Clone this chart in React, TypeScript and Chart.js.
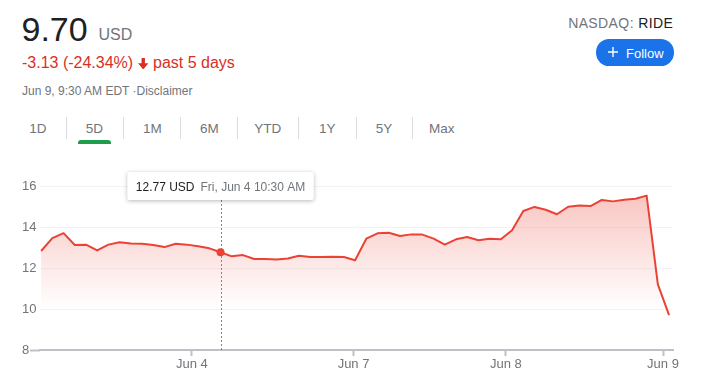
import React, { useEffect, useRef } from "react";
import { Chart, registerables } from "chart.js";

Chart.register(...registerables);

// ---------- data ----------
const PRICES = [
  12.83, 13.46, 13.7, 13.12, 13.14, 12.86, 13.14, 13.26, 13.2, 13.18, 13.12, 13.02, 13.18, 13.14,
  13.06, 12.96, 12.77, 12.57, 12.63, 12.44, 12.44, 12.41, 12.46, 12.6, 12.54, 12.54, 12.55, 12.54,
  12.38, 13.43, 13.69, 13.72, 13.56, 13.64, 13.63, 13.43, 13.14, 13.4, 13.51, 13.35, 13.43, 13.4,
  13.84, 14.78, 14.98, 14.84, 14.62, 14.99, 15.05, 15.02, 15.32, 15.25, 15.33, 15.38, 15.53, 11.2,
  9.7,
];
const X_TICK_VALUES = [13.45, 27.86, 41.45, 55.46];
const X_TICK_LABELS = ["Jun 4", "Jun 7", "Jun 8", "Jun 9"];
const Y_TICKS = [8, 10, 12, 14, 16];
const HOVER_INDEX = 16;
const HOVER_LABEL = "Fri, Jun 4 10:30 AM";
const CURRENCY = "USD";
const PRICE_TEXT = "9.70";
const CHANGE_TEXT = "-3.13 (-24.34%)";
const PERIOD_TEXT = "past 5 days";
const DATE_TEXT = "Jun 9, 9:30 AM EDT ·Disclaimer";
const EXCHANGE = "NASDAQ:";
const TICKER = "RIDE";
const RANGES = ["1D", "5D", "1M", "6M", "YTD", "1Y", "5Y", "Max"];
const SELECTED_RANGE = "5D";

// ---------- styling ----------
const FONT = "'Liberation Sans', Arial, Helvetica, sans-serif";
const RED = "#ea4335";
const GRAY = "#70757a";
const TAB_CENTERS = [38, 94.3, 152.3, 209.3, 267.7, 327.3, 384, 441.7];
const TAB_SEPARATORS = [66.7, 123.7, 180.7, 237.7, 298.3, 356, 412.7];

const hoverPlugin = {
  id: "hoverCard",
  afterDatasetsDraw(chart: any) {
    const { ctx, chartArea, scales } = chart;
    const px = scales.x.getPixelForValue(HOVER_INDEX);
    const v = PRICES[HOVER_INDEX];
    const py = scales.y.getPixelForValue(v);
    const t1 = `${v.toFixed(2)} ${CURRENCY}`;
    ctx.save();
    ctx.font = `12px ${FONT}`;
    const w1 = ctx.measureText(t1).width;
    const w2 = ctx.measureText(HOVER_LABEL).width;
    const gap = 6;
    const padX = 8.5;
    const bw = padX * 2 + w1 + gap + w2;
    const bh = 28;
    const bx = px - bw / 2;
    const by = chartArea.top - 14;
    // dashed guide
    const lx = Math.round(px) + 0.5;
    ctx.strokeStyle = "#80868b";
    ctx.lineWidth = 1;
    ctx.setLineDash([2, 2]);
    ctx.beginPath();
    ctx.moveTo(lx, by + bh);
    ctx.lineTo(lx, chartArea.bottom);
    ctx.stroke();
    ctx.setLineDash([]);
    // dot
    ctx.fillStyle = RED;
    ctx.beginPath();
    ctx.arc(px, py, 4, 0, Math.PI * 2);
    ctx.fill();
    // card
    ctx.shadowColor = "rgba(0,0,0,0.28)";
    ctx.shadowBlur = 4;
    ctx.shadowOffsetY = 1;
    ctx.fillStyle = "#ffffff";
    ctx.beginPath();
    const r = 2;
    ctx.moveTo(bx + r, by);
    ctx.lineTo(bx + bw - r, by);
    ctx.quadraticCurveTo(bx + bw, by, bx + bw, by + r);
    ctx.lineTo(bx + bw, by + bh - r);
    ctx.quadraticCurveTo(bx + bw, by + bh, bx + bw - r, by + bh);
    ctx.lineTo(bx + r, by + bh);
    ctx.quadraticCurveTo(bx, by + bh, bx, by + bh - r);
    ctx.lineTo(bx, by + r);
    ctx.quadraticCurveTo(bx, by, bx + r, by);
    ctx.closePath();
    ctx.fill();
    ctx.shadowColor = "rgba(0,0,0,0)";
    ctx.shadowBlur = 0;
    ctx.shadowOffsetY = 0;
    ctx.textBaseline = "alphabetic";
    ctx.textAlign = "left";
    ctx.fillStyle = "#202124";
    ctx.fillText(t1, bx + padX, by + 19);
    ctx.fillStyle = GRAY;
    ctx.fillText(HOVER_LABEL, bx + padX + w1 + gap, by + 19);
    ctx.restore();
  },
};

function PriceChart() {
  const ref = useRef<HTMLCanvasElement | null>(null);
  useEffect(() => {
    if (!ref.current) return;
    const chart = new Chart(ref.current, {
      type: "line",
      data: {
        datasets: [
          {
            data: PRICES.map((y, i) => ({ x: i, y })),
            borderColor: RED,
            borderWidth: 2,
            pointRadius: 0,
            pointHoverRadius: 0,
            tension: 0,
            borderJoinStyle: "round",
            fill: "start",
            backgroundColor: (c: any) => {
              const ch = c.chart;
              if (!ch.chartArea) return "rgba(234,67,53,0.15)";
              const ys = ch.scales.y;
              const g = ch.ctx.createLinearGradient(0, ys.getPixelForValue(16), 0, ys.getPixelForValue(10));
              g.addColorStop(0, "rgba(234,67,53,0.33)");
              g.addColorStop(1, "rgba(234,67,53,0)");
              return g;
            },
          },
        ],
      },
      options: {
        animation: false,
        responsive: false,
        devicePixelRatio: 1,
        events: [],
        layout: { padding: { left: 22, right: 33, top: 36, bottom: 0 } },
        plugins: { legend: { display: false }, tooltip: { enabled: false } },
        scales: {
          x: {
            type: "linear",
            min: -0.1,
            max: 56.35,
            afterBuildTicks: (s: any) => {
              s.ticks = X_TICK_VALUES.map((value) => ({ value }));
            },
            afterFit: (s: any) => {
              s.height = 40;
            },
            ticks: {
              autoSkip: false,
              maxRotation: 0,
              padding: 1,
              color: GRAY,
              font: { family: FONT, size: 13 },
              callback: (_v: any, i: number) => X_TICK_LABELS[i],
            },
            grid: {
              drawOnChartArea: false,
              drawTicks: true,
              tickLength: 6,
              tickColor: "#bdc1c6",
              tickWidth: 2,
            },
            border: { display: true, color: "#bdc1c6", width: 2 },
          },
          y: {
            min: 8,
            max: 16,
            afterBuildTicks: (s: any) => {
              s.ticks = Y_TICKS.map((value) => ({ value }));
            },
            afterFit: (s: any) => {
              s.width = 18;
            },
            ticks: {
              crossAlign: "far",
              padding: 0,
              color: GRAY,
              font: { family: FONT, size: 13 },
              callback: (v: any) => String(v),
            },
            grid: {
              color: (c: any) => (c.tick && c.tick.value === 8 ? "rgba(0,0,0,0)" : "#f1f3f4"),
              lineWidth: 1,
              tickLength: 10,
              tickColor: (c: any) => (c.tick && c.tick.value === 8 ? "#bdc1c6" : "rgba(0,0,0,0)"),
              tickWidth: 2,
            },
            border: { display: false },
          },
        },
      } as any,
      plugins: [hoverPlugin as any],
    });
    return () => chart.destroy();
  }, []);
  return <canvas ref={ref} width={706} height={240} style={{ position: "absolute", left: 0, top: 150, width: 706, height: 240 }} />;
}

const abs = (left: number, top: number, extra: React.CSSProperties = {}): React.CSSProperties => ({
  position: "absolute",
  left,
  top,
  whiteSpace: "nowrap",
  ...extra,
});

export default function App() {
  return (
    <div
      style={{
        position: "absolute",
        left: 0,
        top: 0,
        width: 706,
        height: 390,
        background: "#fff",
        overflow: "hidden",
        fontFamily: FONT,
      }}
    >
      {/* price */}
      <div style={abs(21.5, 12, { fontSize: 34, lineHeight: "34px", color: "#202124" })}>{PRICE_TEXT}</div>
      <div style={abs(98.5, 27.2, { fontSize: 16, lineHeight: "16px", color: GRAY })}>{CURRENCY}</div>
      {/* change */}
      <div style={abs(22, 54.8, { fontSize: 16, lineHeight: "16px", color: "#d93025" })}>{CHANGE_TEXT}</div>
      <svg style={abs(137.5, 57.5)} width={10.5} height={11.5} viewBox="0 0 10 11">
        <path d="M3.4 0h3.2v5H10L5 11 0 5h3.4z" fill="#d93025" />
      </svg>
      <div style={abs(153, 54.8, { fontSize: 16, lineHeight: "16px", color: "#d93025" })}>{PERIOD_TEXT}</div>
      {/* date */}
      <div style={abs(22, 84.5, { fontSize: 12, lineHeight: "12px", color: GRAY })}>{DATE_TEXT}</div>
      {/* exchange */}
      <div
        style={{
          position: "absolute",
          right: 32.7,
          top: 15.5,
          fontSize: 14,
          lineHeight: "14px",
          letterSpacing: 0.4,
          whiteSpace: "nowrap",
        }}
      >
        <span style={{ color: GRAY }}>{EXCHANGE} </span>
        <span style={{ color: "#202124" }}>{TICKER}</span>
      </div>
      {/* follow */}
      <div
        style={abs(596, 39.3, {
          width: 78,
          height: 26.4,
          borderRadius: 13.2,
          background: "#1a73e8",
        })}
      >
        <svg style={{ position: "absolute", left: 11.7, top: 8.2 }} width={10} height={10} viewBox="0 0 10 10">
          <path d="M4.3 0h1.4v4.3H10v1.4H5.7V10H4.3V5.7H0V4.3h4.3z" fill="#fff" />
        </svg>
        <div style={{ position: "absolute", left: 30, top: 7.3, fontSize: 13, lineHeight: "13px", color: "#fff" }}>Follow</div>
      </div>
      {/* range tabs */}
      {RANGES.map((r, i) => (
        <div
          key={r}
          style={abs(TAB_CENTERS[i] - 30, 122, {
            width: 60,
            textAlign: "center",
            fontSize: 13.5,
            lineHeight: "13.5px",
            color: GRAY,
          })}
        >
          {r}
        </div>
      ))}
      {TAB_SEPARATORS.map((x, i) => (
        <div key={i} style={abs(x - 0.5, 117, { width: 1, height: 22, background: "#dadce0" })} />
      ))}
      <div
        style={abs(TAB_CENTERS[RANGES.indexOf(SELECTED_RANGE)] - 16.5, 140, {
          width: 33,
          height: 4,
          background: "#1e9e4a",
          borderRadius: "3px 3px 0 0",
        })}
      />
      <PriceChart />
    </div>
  );
}
